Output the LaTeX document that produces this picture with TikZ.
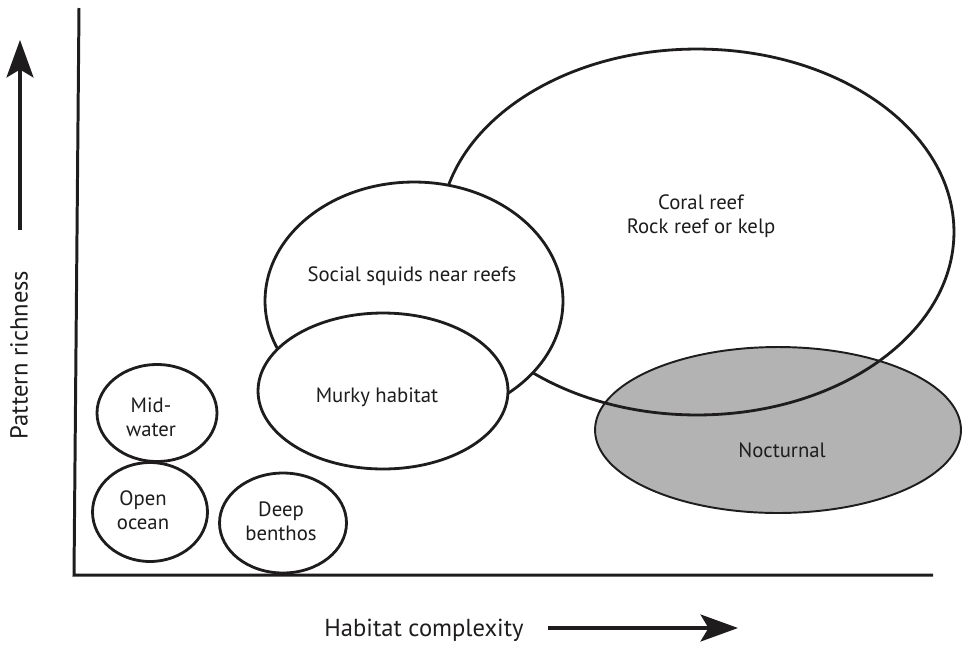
\documentclass[tikz,border=0pt]{standalone}
\usepackage{fontspec}
\setmainfont{PT Sans}
\usetikzlibrary{positioning,shapes.geometric,arrows.meta}
\definecolor{ink}{HTML}{1E1C1D}
\definecolor{noct}{HTML}{B3B3B3}

\begin{document}
\begin{tikzpicture}[x=0.02cm,y=-0.02cm,font=\fontsize{11.8}{13.6}\selectfont,
  e/.style={ellipse,draw=ink,line width=1.6pt,fill=white,inner sep=0pt},
  t/.style={align=center,text=ink,inner sep=0pt},
  ax/.style={draw=ink,line width=1.7pt},
  arr/.style={draw=ink,line width=1.8pt,-{Stealth[length=7.5mm,width=5.4mm,inset=1.6mm]}},
  axl/.style={text=ink,inner sep=0pt,font=\fontsize{14}{16}\selectfont}]
  \useasboundingbox (0,0) rectangle (962,646);
  % axes
  \coordinate (top) at (79,8);
  \coordinate (o) at (74,575);
  \coordinate (right) at (933,575);
  \draw[ax] (top)--(o)--(right);
  \node[axl,rotate=90](pr) at (19,355){Pattern richness};
  \coordinate (prtail) at (20,230);\coordinate (prtip) at (20,40);
  \draw[arr](prtail)--(prtip);
  \node[axl](hc) at (424,630){Habitat complexity};
  \coordinate (hctail) at (548,628);\coordinate (hctip) at (738,628);
  \draw[arr](hctail)--(hctip);
  % habitats
  \node[e,draw=ink,line width=1.1pt,fill=noct,minimum width=7.32cm,minimum height=3.32cm](noc) at (778,430){};
  \node[e,fill=none,minimum width=10.28cm,minimum height=7.32cm](cor) at (697,232){};
  \node[e,minimum width=5.96cm,minimum height=4.76cm](soc) at (414,301){};
  \node[e,minimum width=5cm,minimum height=3.12cm](mur) at (383,391){};
  \node[e,minimum width=2.4cm,minimum height=1.94cm](mid) at (157,413){};
  \node[e,minimum width=2.3cm,minimum height=1.98cm](ope) at (150,512){};
  \node[e,minimum width=2.54cm,minimum height=2cm](dee) at (283,523){};
  % labels
  \node[t](cort) at (701,216){Coral reef\\Rock reef or kelp};
  \node[t](soct) at (412,276){Social squids near reefs};
  \node[t](murt) at (377,397){Murky habitat};
  \node[t](noct) at (782,450){Nocturnal};
  \node[t](midt) at (151,417){Mid-\\water};
  \node[t](opet) at (143,510){Open\\ocean};
  \node[t](deet) at (281,521){Deep\\benthos};
\end{tikzpicture}
\end{document}
